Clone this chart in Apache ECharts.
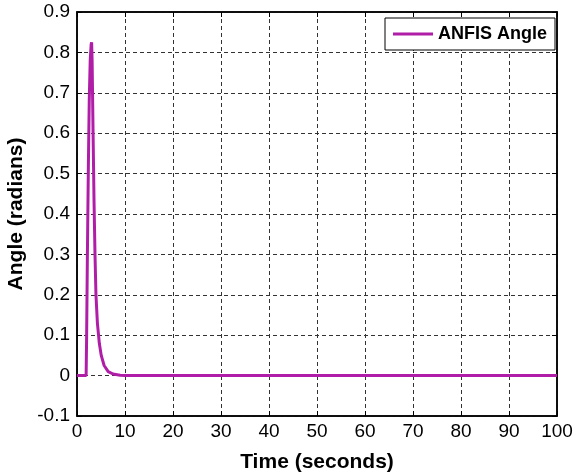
<!DOCTYPE html>
<html>
<head>
<meta charset="utf-8">
<script src="https://cdn.jsdelivr.net/npm/echarts@6/dist/echarts.min.js"></script>
<style>
  html, body { margin: 0; padding: 0; background: #fff; }
  #chart { width: 580px; height: 475px; }
</style>
</head>
<body>
<div id="chart"></div>
<script>
// time (s) and ANFIS angle (rad)
var timeData = [0, 1, 1.9, 2.0, 2.15, 2.35, 2.55, 2.75, 2.95, 3.05, 3.15, 3.35, 3.55, 3.75, 3.95, 4.25, 4.65, 5.05, 5.65, 6.5, 7.5, 9, 10, 100];
var angleData = [0, 0, 0, 0.09, 0.28, 0.5, 0.68, 0.78, 0.82, 0.825, 0.78, 0.6, 0.43, 0.3, 0.2, 0.13, 0.08, 0.05, 0.025, 0.01, 0.004, 0.001, 0, 0];
var xTicks = [0, 10, 20, 30, 40, 50, 60, 70, 80, 90, 100];
var yTicks = [-0.1, 0, 0.1, 0.2, 0.3, 0.4, 0.5, 0.6, 0.7, 0.8, 0.9];

var points = [];
for (var i = 0; i < timeData.length; i++) {
  points.push([timeData[i], angleData[i]]);
}

var chart = echarts.init(document.getElementById('chart'));

var fontFam = '"Liberation Sans", Arial, Helvetica, sans-serif';
var dash = { type: [4, 3], color: '#333', width: 1 };

function yFmt(v) {
  var r = Math.round(v * 10) / 10;
  return r === 0 ? '0' : String(r);
}

chart.setOption({
  backgroundColor: '#fff',
  animation: false,
  grid: {
    left: 77, right: 23, top: 12, bottom: 59,
    containLabel: false,
    outerBoundsMode: 'none',
    show: true,
    borderColor: '#000',
    borderWidth: 1.5,
    backgroundColor: '#fff'
  },
  legend: {
    data: ['ANFIS Angle'],
    left: 385,
    top: 18,
    orient: 'vertical',
    padding: [7, 8, 7, 8],
    borderColor: '#000',
    borderWidth: 1,
    backgroundColor: '#fff',
    icon: 'rect',
    itemWidth: 40,
    itemHeight: 3,
    itemGap: 0,
    textStyle: { fontFamily: fontFam, fontWeight: 'bold', fontSize: 18, color: '#000', padding: [0, 0, 0, 0] }
  },
  xAxis: [{
    type: 'value',
    min: xTicks[0],
    max: xTicks[xTicks.length - 1],
    interval: 10,
    name: 'Time (seconds)',
    nameLocation: 'middle',
    nameGap: 36,
    nameTextStyle: { fontFamily: fontFam, fontWeight: 'bold', fontSize: 21, color: '#000' },
    axisLine: { show: true, onZero: false, lineStyle: { color: '#000', width: 1.5 } },
    axisTick: { show: true, inside: true, length: 5, lineStyle: { color: '#000' } },
    axisLabel: { fontFamily: fontFam, fontSize: 19, color: '#000', margin: 6 },
    splitLine: { show: true, lineStyle: dash }
  }, {
    type: 'value',
    position: 'top',
    min: xTicks[0],
    max: xTicks[xTicks.length - 1],
    interval: 10,
    axisLine: { show: true, onZero: false, lineStyle: { color: '#000', width: 1.5 } },
    axisTick: { show: true, inside: true, length: 5, lineStyle: { color: '#000' } },
    axisLabel: { show: false },
    splitLine: { show: false }
  }],
  yAxis: [{
    type: 'value',
    min: yTicks[0],
    max: yTicks[yTicks.length - 1],
    interval: 0.1,
    name: 'Angle (radians)',
    nameLocation: 'middle',
    nameGap: 49,
    nameRotate: 90,
    nameTextStyle: { fontFamily: fontFam, fontWeight: 'bold', fontSize: 21, color: '#000' },
    axisLine: { show: true, onZero: false, lineStyle: { color: '#000', width: 1.5 } },
    axisTick: { show: true, inside: true, length: 5, lineStyle: { color: '#000' } },
    axisLabel: { fontFamily: fontFam, fontSize: 19, color: '#000', margin: 7, formatter: yFmt },
    splitLine: { show: true, lineStyle: dash }
  }, {
    type: 'value',
    position: 'right',
    min: yTicks[0],
    max: yTicks[yTicks.length - 1],
    interval: 0.1,
    axisLine: { show: true, onZero: false, lineStyle: { color: '#000', width: 1.5 } },
    axisTick: { show: true, inside: true, length: 5, lineStyle: { color: '#000' } },
    axisLabel: { show: false },
    splitLine: { show: false }
  }],
  series: [{
    name: 'ANFIS Angle',
    type: 'line',
    data: points,
    showSymbol: false,
    symbol: 'none',
    smooth: false,
    itemStyle: { color: '#b01ea8' },
    lineStyle: { color: '#b01ea8', width: 3 }
  }]
});
</script>
</body>
</html>
